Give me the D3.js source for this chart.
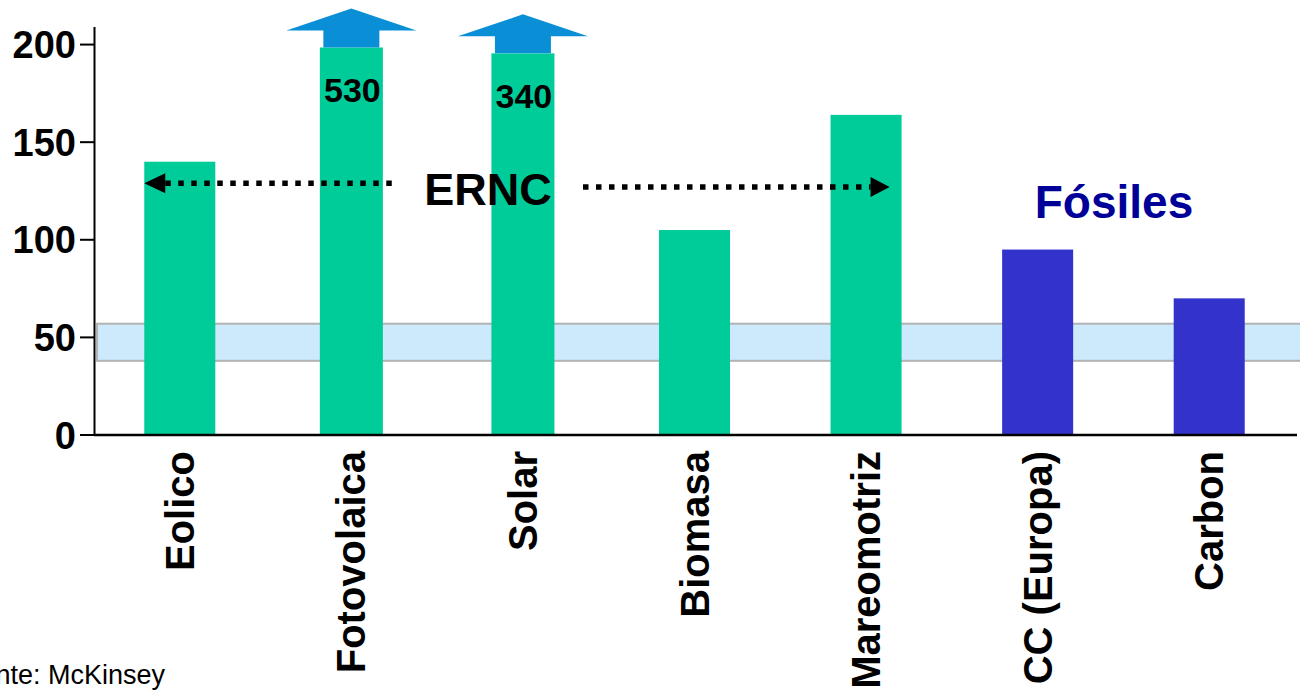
<!DOCTYPE html>
<html>
<head>
<meta charset="utf-8">
<script src="https://cdn.jsdelivr.net/npm/d3@7"></script>
<style>
  html, body { margin: 0; padding: 0; background: #ffffff; }
  svg { display: block; font-family: "Liberation Sans", Arial, Helvetica, sans-serif; }
</style>
</head>
<body>
<svg id="chart" width="1300" height="692"></svg>
<script>
// Generation cost by technology
const categories = ["Eolico", "Fotovolaica", "Solar", "Biomasa", "Mareomotriz", "CC (Europa)", "Carbon"];
const values     = [140, 530, 340, 105, 164, 95, 70];
const groups     = ["ernc", "ernc", "ernc", "ernc", "ernc", "fosil", "fosil"];
// bars that run off the scale are cut at these heights and topped with an arrow
const breakAt    = [null, 198.5, 195.5, null, null, null, null];
const yTicks     = [0, 50, 100, 150, 200];
const bandRange  = [38, 57];   // shaded reference band
const sourceText = "Fuente: McKinsey";

const svg = d3.select("#chart");
const W = 1300;

const x = d3.scaleBand()
  .domain(categories)
  .range([94, 1295])
  .paddingInner(0.586)
  .paddingOuter(0.293);

const y = d3.scaleLinear()
  .domain([0, 209])
  .range([435, 27]);

const colors = { ernc: "#00cc99", fosil: "#3333cc" };
const arrowBlue = "#0a8fd6";

// reference band
svg.append("rect")
  .attr("x", 97)
  .attr("y", y(bandRange[1]))
  .attr("width", W - 97 + 4)
  .attr("height", y(bandRange[0]) - y(bandRange[1]))
  .attr("fill", "#cdeafd")
  .attr("stroke", "#b3b3b3")
  .attr("stroke-width", 2);

// bars
const rows = categories.map((c, i) => ({
  cat: c, value: values[i], group: groups[i], shown: breakAt[i] == null ? values[i] : breakAt[i], broken: breakAt[i] != null
}));

svg.append("g").selectAll("rect")
  .data(rows)
  .join("rect")
  .attr("x", d => x(d.cat) + (d.broken ? 4 : 0))
  .attr("y", d => y(d.shown))
  .attr("width", d => x.bandwidth() - (d.broken ? 8 : 0))
  .attr("height", d => y(0) - y(d.shown))
  .attr("fill", d => colors[d.group]);

// overflow arrows on broken bars
const broken = rows.filter(d => d.broken);
svg.append("g").selectAll("path")
  .data(broken)
  .join("path")
  .attr("fill", arrowBlue)
  .attr("d", d => {
    const cx = x(d.cat) + x.bandwidth() / 2;
    const top = y(d.shown);
    const sw = 28, hw = 65, baseY = top - 17, tipY = top - 39;
    return `M${cx - sw},${top} L${cx - sw},${baseY} L${cx - hw},${baseY} L${cx},${tipY} L${cx + hw},${baseY} L${cx + sw},${baseY} L${cx + sw},${top} Z`;
  });

// value labels on broken bars
svg.append("g").selectAll("text")
  .data(broken)
  .join("text")
  .attr("x", d => x(d.cat) + x.bandwidth() / 2 + 1)
  .attr("y", d => y(d.shown) + 55)
  .attr("text-anchor", "middle")
  .attr("font-size", 34)
  .attr("font-weight", "bold")
  .attr("fill", "#000")
  .text(d => d.value);

// y axis
const yAxis = svg.append("g");
yAxis.append("line")
  .attr("x1", 94.5).attr("x2", 94.5)
  .attr("y1", y(209)).attr("y2", y(0) + 1)
  .attr("stroke", "#000").attr("stroke-width", 2);
yAxis.selectAll("line.tick")
  .data(yTicks)
  .join("line")
  .attr("class", "tick")
  .attr("x1", 80).attr("x2", 94)
  .attr("y1", d => y(d)).attr("y2", d => y(d))
  .attr("stroke", "#000").attr("stroke-width", 2);
yAxis.selectAll("text")
  .data(yTicks)
  .join("text")
  .attr("x", 76)
  .attr("y", d => y(d))
  .attr("dy", "0.36em")
  .attr("text-anchor", "end")
  .attr("font-size", 38)
  .attr("font-weight", "bold")
  .text(d => d);

// x axis
svg.append("line")
  .attr("x1", 94).attr("x2", 1297)
  .attr("y1", y(0)).attr("y2", y(0))
  .attr("stroke", "#000").attr("stroke-width", 2.5);

svg.append("g").selectAll("text")
  .data(categories)
  .join("text")
  .attr("transform", d => `translate(${x(d) + x.bandwidth() / 2 + 14},451) rotate(-90)`)
  .attr("text-anchor", "end")
  .attr("font-size", 40)
  .attr("font-weight", "bold")
  .text(d => d);

// ERNC span annotation: dotted double arrow
const ann = svg.append("g");
const leftY = y(129), rightY = y(127);
const leftTip = x("Eolico"), rightTip = x("Mareomotriz") + x.bandwidth() - 12;
ann.append("line")
  .attr("x1", leftTip + 21).attr("x2", 392)
  .attr("y1", leftY).attr("y2", leftY)
  .attr("stroke", "#000").attr("stroke-width", 5.5)
  .attr("stroke-dasharray", "5.5 7.5");
ann.append("path")
  .attr("d", `M${leftTip},${leftY} L${leftTip + 21},${leftY - 10} L${leftTip + 21},${leftY + 10} Z`)
  .attr("fill", "#000");
ann.append("line")
  .attr("x1", 583).attr("x2", rightTip - 19)
  .attr("y1", rightY).attr("y2", rightY)
  .attr("stroke", "#000").attr("stroke-width", 5.5)
  .attr("stroke-dasharray", "5.5 7.5");
ann.append("path")
  .attr("d", `M${rightTip},${rightY} L${rightTip - 19},${rightY - 10} L${rightTip - 19},${rightY + 10} Z`)
  .attr("fill", "#000");

ann.append("text")
  .attr("x", 488)
  .attr("y", 205)
  .attr("text-anchor", "middle")
  .attr("font-size", 45)
  .attr("font-weight", "bold")
  .attr("fill", "#000")
  .text("ERNC");

ann.append("text")
  .attr("x", 1114)
  .attr("y", 218)
  .attr("text-anchor", "middle")
  .attr("font-size", 46)
  .attr("font-weight", "bold")
  .attr("fill", "#000099")
  .text("Fósiles");

// source note
svg.append("text")
  .attr("x", 165)
  .attr("y", 684)
  .attr("text-anchor", "end")
  .attr("font-size", 27)
  .attr("fill", "#000")
  .text(sourceText);
</script>
</body>
</html>
